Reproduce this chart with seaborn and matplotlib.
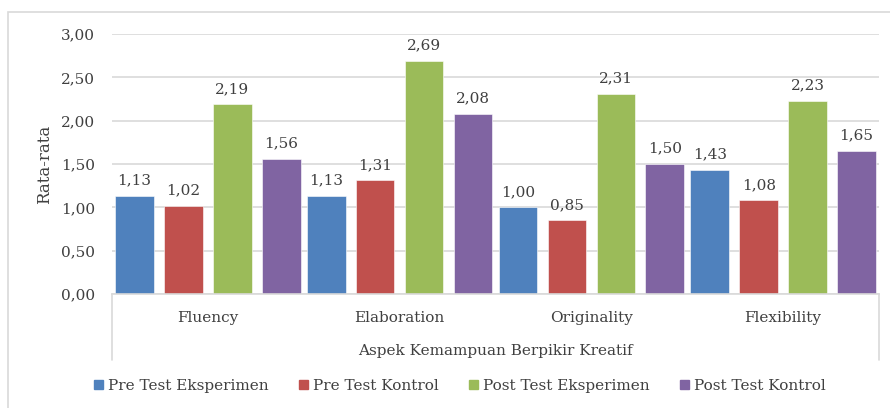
import matplotlib
matplotlib.use('Agg')
import matplotlib.pyplot as plt
import matplotlib.patches as mpatches
from matplotlib.lines import Line2D
import seaborn as sns
import pandas as pd

# ── Data ──────────────────────────────────────────────────────────
aspects = ['Fluency', 'Elaboration', 'Originality', 'Flexibility']
groups = ['Pre Test Eksperimen', 'Pre Test Kontrol', 'Post Test Eksperimen', 'Post Test Kontrol']
pre_eks = [1.13, 1.13, 1.00, 1.43]
pre_kon = [1.02, 1.31, 0.85, 1.08]
post_eks = [2.19, 2.69, 2.31, 2.23]
post_kon = [1.56, 2.08, 1.50, 1.65]
y_ticks = [0.0, 0.5, 1.0, 1.5, 2.0, 2.5, 3.0]

COLORS = ['#4F81BD', '#C0504D', '#9BBB59', '#8064A2']
TEXT = '#404040'
GRID = '#D9D9D9'

rows = []
for g, vals in zip(groups, [pre_eks, pre_kon, post_eks, post_kon]):
    for a, v in zip(aspects, vals):
        rows.append({'aspek': a, 'kelompok': g, 'nilai': v})
df = pd.DataFrame(rows)

# ── Plot ──────────────────────────────────────────────────────────
sns.set_style('white')
plt.rcParams['font.family'] = ['DejaVu Serif']

fig = plt.figure(figsize=(8.9, 4.08), dpi=100)
ax = fig.add_axes([112 / 890, 1 - 294 / 408, (879 - 112) / 890, 260 / 408])

sns.barplot(data=df, x='aspek', y='nilai', hue='kelompok', order=aspects,
            hue_order=groups, palette=COLORS, width=1.02, gap=0.21,
            saturation=1, edgecolor='white', linewidth=0.4, ax=ax, legend=True)

for cont in ax.containers:
    labels = [f'{b.get_height():.2f}'.replace('.', ',') for b in cont]
    ax.bar_label(cont, labels=labels, padding=6, fontsize=11, color=TEXT)

ax.set_ylim(0, 3)
ax.set_xlim(-0.5, 3.5)
ax.set_yticks(y_ticks)
ax.set_yticklabels([f'{t:.2f}'.replace('.', ',') for t in y_ticks], color=TEXT, fontsize=11)
ax.tick_params(axis='y', length=0, pad=12)
ax.tick_params(axis='x', length=0, pad=12, labelsize=11, labelcolor=TEXT)
ax.yaxis.grid(True, color=GRID, linewidth=1.2)
ax.set_axisbelow(True)
for s in ['top', 'right', 'left']:
    ax.spines[s].set_visible(False)
ax.spines['bottom'].set_color(GRID)
ax.spines['bottom'].set_linewidth(1.2)

ax.set_ylabel('Rata-rata', fontsize=12, color=TEXT, labelpad=6)
ax.set_xlabel('Aspek Kemampuan Berpikir Kreatif', fontsize=11, color=TEXT, labelpad=14)

# category axis box sides
depth = (360 - 294) / 260
for xx in [0, 1]:
    ax.add_line(Line2D([xx, xx], [0, -depth], transform=ax.transAxes,
                       color=GRID, linewidth=1.2, clip_on=False))

# legend
handles = [mpatches.Patch(color=c) for c in COLORS]
ax.legend_.remove()
fig.legend(handles, groups, loc='center', bbox_to_anchor=(460 / 890, 1 - 386 / 408),
           ncol=4, frameon=False, fontsize=11, handlelength=0.6, handleheight=0.6,
           handletextpad=0.3, columnspacing=2.0, labelcolor=TEXT)

# chart area border
fig.patches.append(mpatches.Rectangle((8 / 890, -0.1), 1.1, 1 - 12 / 408 + 0.1,
                                      transform=fig.transFigure, fill=False,
                                      edgecolor=GRID, linewidth=1.2))

fig.savefig('out.png', dpi=100)
